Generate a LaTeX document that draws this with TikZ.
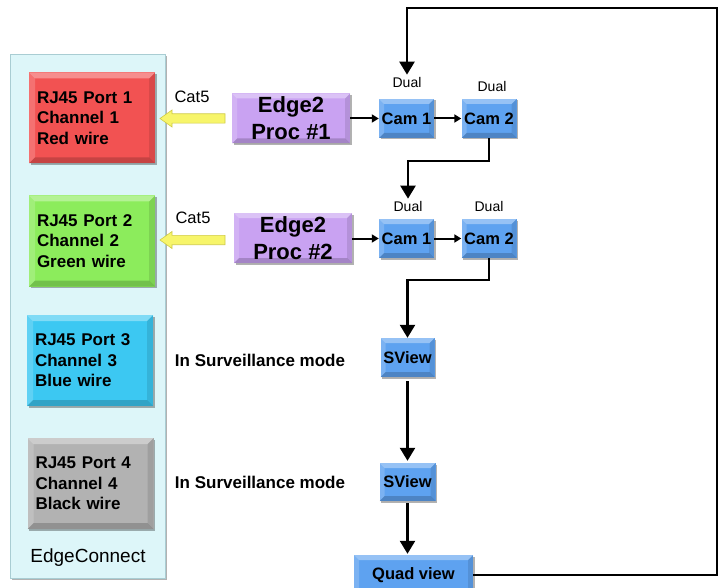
\documentclass[tikz,border=0pt]{standalone}
\usepackage{fontspec}
\setmainfont{Liberation Sans}
\usetikzlibrary{arrows.meta,shadows}
\definecolor{ecfill}{HTML}{DDF6F9}
\definecolor{ecdraw}{HTML}{A9CDD3}
\definecolor{redbox}{HTML}{F25252}
\definecolor{greenbox}{HTML}{8CEC5C}
\definecolor{bluebox}{HTML}{3CC8F2}
\definecolor{graybox}{HTML}{B2B2B2}
\definecolor{purplebox}{HTML}{C9A2F2}
\definecolor{cambox}{HTML}{5EA2F0}
\definecolor{arrowyellow}{HTML}{F7F56A}
\definecolor{arrowedge}{HTML}{CFCB45}
\tikzset{
  bevel/.style={path picture={
    \fill[white,opacity=0.35] (path picture bounding box.north west) -- (path picture bounding box.north east) -- ([xshift=-#1,yshift=-#1]path picture bounding box.north east) -- ([xshift=#1,yshift=-#1]path picture bounding box.north west) -- cycle;
    \fill[white,opacity=0.18] (path picture bounding box.north west) -- (path picture bounding box.south west) -- ([xshift=#1,yshift=#1]path picture bounding box.south west) -- ([xshift=#1,yshift=-#1]path picture bounding box.north west) -- cycle;
    \fill[black,opacity=0.18] (path picture bounding box.south west) -- (path picture bounding box.south east) -- ([xshift=-#1,yshift=#1]path picture bounding box.south east) -- ([xshift=#1,yshift=#1]path picture bounding box.south west) -- cycle;
    \fill[black,opacity=0.10] (path picture bounding box.north east) -- (path picture bounding box.south east) -- ([xshift=-#1,yshift=#1]path picture bounding box.south east) -- ([xshift=-#1,yshift=-#1]path picture bounding box.north east) -- cycle;
  }},
  bevel/.default=5pt,
  boxshadow/.style={drop shadow={shadow xshift=1.5pt,shadow yshift=-1.5pt,opacity=0.3,fill=black}},
  port/.style={rectangle, inner sep=0pt, minimum width=126pt, minimum height=91pt,
    text width=110pt, align=left, font=\bfseries\fontsize{17}{20.5}\selectfont,
    bevel=6pt, boxshadow},
  proc/.style={rectangle, inner sep=0pt, minimum width=118pt, minimum height=50pt,
    align=center, fill=purplebox, font=\bfseries\fontsize{22}{27}\selectfont,
    bevel=5pt, boxshadow},
  cam/.style={rectangle, inner sep=0pt, minimum width=55pt, minimum height=39pt,
    align=center, fill=cambox, font=\bfseries\fontsize{16.5}{19}\selectfont,
    bevel=5pt, boxshadow},
  dual/.style={inner sep=2pt, font=\fontsize{14}{16}\selectfont},
  catlabel/.style={inner sep=1pt, font=\fontsize{16.5}{19}\selectfont},
  survlabel/.style={inner sep=1pt, font=\bfseries\fontsize{17}{20}\selectfont},
  yarrow/.style={fill=arrowyellow, draw=arrowedge, line width=0.6pt, line join=miter},
  bigarr/.style={line width=2.5pt, -{Triangle[length=13pt,width=15pt]}},
  smallarr/.style={line width=2pt, -{Triangle[length=7pt,width=8pt]}},
}
\begin{document}
\begin{tikzpicture}[x=1pt,y=-1pt]
\useasboundingbox (0,0) rectangle (725,588);
\clip (0,0) rectangle (725,588);

% EdgeConnect container
\node (ec) [rectangle, minimum width=155pt, minimum height=523pt, inner sep=0pt,
  fill=ecfill, draw=ecdraw, line width=1pt, boxshadow] at (87.5,316.5) {};
\node (eclabel) [font=\fontsize{19}{22}\selectfont] at (88,558) {EdgeConnect};

% ports
\node (p1) [port, fill=redbox]   at (92,118)   {RJ45 Port 1\\Channel 1\\Red wire};
\node (p2) [port, fill=greenbox] at (92,241)   {RJ45 Port 2\\Channel 2\\Green wire};
\node (p3) [port, fill=bluebox]  at (90,360.5) {RJ45 Port 3\\Channel 3\\Blue wire};
\node (p4) [port, fill=graybox]  at (90.5,483.5) {RJ45 Port 4\\Channel 4\\Black wire};

% processors
\node (e1) [proc] at (291,118.5) {Edge2\\Proc \#1};
\node (e2) [proc] at (293,238) {Edge2\\Proc \#2};

% Cat5 arrows (tip points to the ports)
\coordinate (y1) at (160,118.5);
\coordinate (y2) at (160,240);
\draw[yarrow] (y1) -- ++(12,-8.5) -- ++(0,3.8) -- ++(53,0) -- ++(0,9.4) -- ++(-53,0) -- ++(0,3.8) -- cycle;
\draw[yarrow] (y2) -- ++(12,-8.5) -- ++(0,3.8) -- ++(53,0) -- ++(0,9.4) -- ++(-53,0) -- ++(0,3.8) -- cycle;
\node (c1) [catlabel] at (192,97) {Cat5};
\node (c2) [catlabel] at (193,218) {Cat5};

% cameras
\node (cam11) [cam] at (406.5,118.5) {Cam 1};
\node (cam12) [cam] at (489,118.5) {Cam 2};
\node (cam21) [cam] at (406.5,238.5) {Cam 1};
\node (cam22) [cam] at (489,238.5) {Cam 2};

\node (d11) [dual] at (407,82) {Dual};
\node (d12) [dual] at (492,86) {Dual};
\node (d21) [dual] at (408,206) {Dual};
\node (d22) [dual] at (489,206) {Dual};

% surveillance
\node (s1) [survlabel] at (260,360) {In Surveillance mode};
\node (s2) [survlabel] at (260,482) {In Surveillance mode};
\node (sv1) [cam, minimum width=54pt] at (407.5,357.5) {SView};
\node (sv2) [cam, minimum width=56pt, minimum height=38pt] at (407.5,482) {SView};
\node (quad) [cam, minimum width=119pt, minimum height=40pt] at (413.5,575) {Quad view};

% connectors
\draw[smallarr] (e1.east) -- (cam11.west);
\draw[smallarr] (cam11.east) -- (cam12.west);
\draw[smallarr] (e2.east |- cam21.west) -- (cam21.west);
\draw[smallarr] (cam21.east) -- (cam22.west);

\coordinate (turn1) at (489,161);
\coordinate (turn2) at (489,280);
\draw[bigarr] (cam12.south) -- (turn1) -| (d21.north);
\draw[bigarr] (cam22.south) -- (turn2) -| (sv1.north);
\draw[bigarr, shorten <=4pt, shorten >=2pt] (sv1.south) -- (sv2.north);
\draw[bigarr, shorten <=2pt, shorten >=1pt] (sv2.south) -- (sv2.south |- quad.north);

\coordinate (topright) at (717,8);
\draw[bigarr] (quad.east) -| (topright) -| (d11.north);
\end{tikzpicture}
\end{document}
